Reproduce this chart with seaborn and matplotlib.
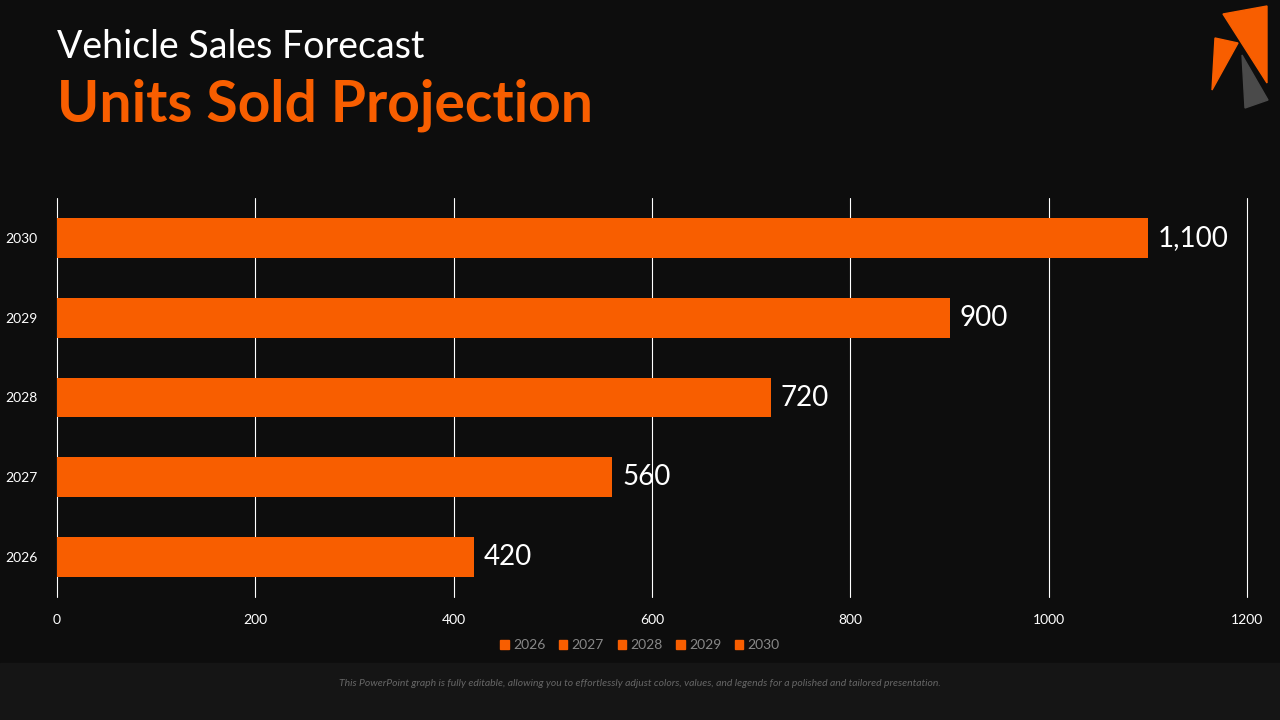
import pandas as pd
import seaborn as sns
import matplotlib.pyplot as plt
from matplotlib.patches import Polygon, Rectangle

years = ['2026', '2027', '2028', '2029', '2030']
units = [420, 560, 720, 900, 1100]
value_labels = ['420', '560', '720', '900', '1,100']

data = pd.DataFrame({'year': years, 'units': units})

sns.set_style('dark')
plt.rcParams['font.family'] = ['Lato', 'DejaVu Sans']
bg = '#0d0d0d'
orange = '#f85e00'

fig = plt.figure(figsize=(12.8, 7.2), dpi=100, facecolor=bg)
# footer band
fig.patches.append(Rectangle((0, 0), 1, 57/720, transform=fig.transFigure, color='#151515', zorder=0))

ax = fig.add_axes([57/1280, 1-597/720, 1190/1280, 399/720])
ax.set_facecolor(bg)
sns.barplot(data=data, x='units', y='year', order=years[::-1], color=orange, width=0.5, saturation=1,
            linewidth=0, ax=ax)
ax.set_xlim(0, 1200)
ax.set_xticks(range(0, 1201, 200))
ax.grid(axis='x', color='white', linewidth=0.8)
ax.grid(axis='y', visible=False)
for gl in ax.get_xgridlines():
    gl.set_clip_on(False)
ax.set_axisbelow(True)
for s in ax.spines.values():
    s.set_visible(False)
ax.set_xlabel('')
ax.set_ylabel('')
ax.tick_params(colors='white', labelsize=10, length=0)
ax.tick_params(axis='y', pad=14)
ax.tick_params(axis='x', pad=12)

for i, y in enumerate(years[::-1]):
    v = units[years.index(y)]
    ax.text(v + 10, i, value_labels[years.index(y)], color='white', fontsize=20, va='center', ha='left')

# legend
handles = [Rectangle((0, 0), 1, 1, color=orange) for _ in years]
fig.legend(handles, years, loc='center', bbox_to_anchor=(0.5, 1-645/720), ncol=5, frameon=False,
           labelcolor='#888888', fontsize=10, handlelength=0.6, handleheight=0.6, handletextpad=0.3, columnspacing=1.0)

# titles
fig.text(57/1280, 1-47/720, 'Vehicle Sales Forecast', color='white', fontsize=27, va='center')
fig.text(57/1280, 1-105/720, 'Units Sold Projection', color=orange, fontsize=41, fontweight='bold', va='center')
fig.text(0.5, 1-684/720, 'This PowerPoint graph is fully editable, allowing you to effortlessly adjust colors, values, and legends for a polished and tailored presentation.',
         color='#666666', fontsize=7.5, style='italic', ha='center', va='center')

# logo
def px(pts):
    return [(x/1280, 1-y/720) for x, y in pts]
fig.patches.append(Polygon(px([(1223, 14), (1267, 6), (1267, 83)]), closed=True, color=orange, transform=fig.transFigure))
fig.patches.append(Polygon(px([(1215, 38), (1238, 43), (1212, 90)]), closed=True, color=orange, transform=fig.transFigure))
fig.patches.append(Polygon(px([(1242, 55), (1268, 100), (1245, 108)]), closed=True, color='#4a4a4a', transform=fig.transFigure))

plt.savefig('out.png', dpi=100, facecolor=bg)
